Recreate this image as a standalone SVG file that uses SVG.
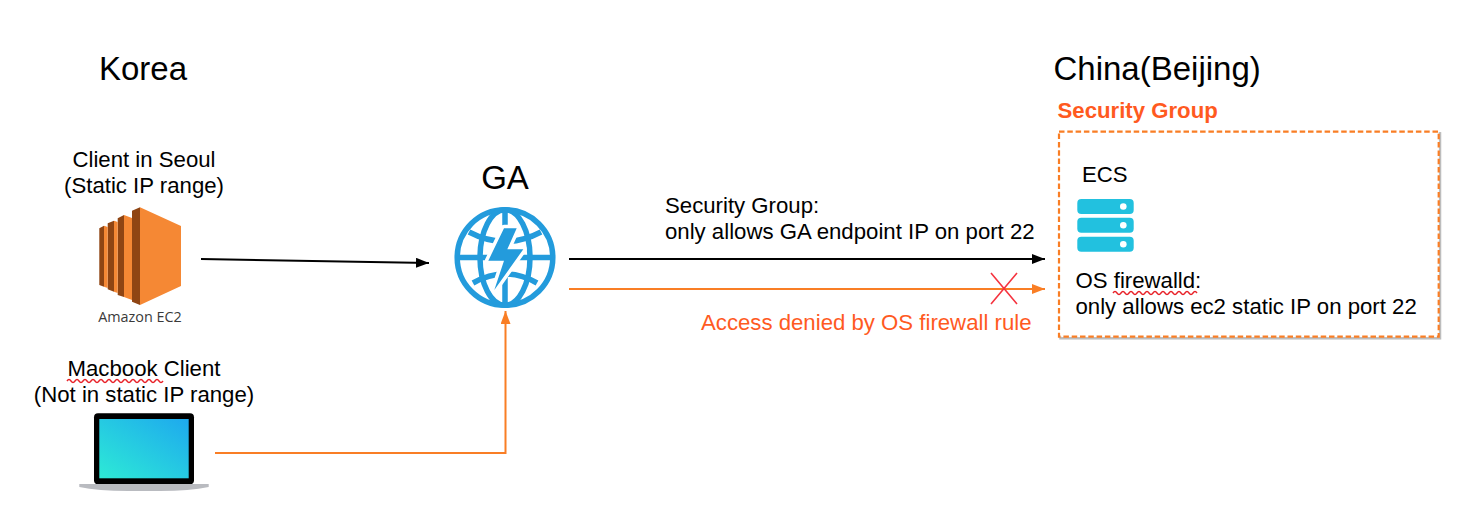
<svg xmlns="http://www.w3.org/2000/svg" width="1478" height="522" viewBox="0 0 1478 522">
<style>
text{font-family:"Liberation Sans",Arial,sans-serif;fill:#000}
.h{font-size:33px}
.m{font-size:22.200px}
.o{fill:#FF5A1F}
.conn{fill:none;stroke-width:2}
.sq{fill:none;stroke:#E8232A;stroke-width:1.400}
.srv{fill:#22C1DF}
.dot{fill:#fff}
.g{fill:none;stroke:#239BDC;stroke-width:5.500}
</style>
<defs>
<marker id="ab" markerUnits="userSpaceOnUse" markerWidth="14" markerHeight="12" refX="13" refY="5" orient="auto"><path d="M0 0L13 5L0 10Z" fill="#000"/></marker>
<marker id="ao" markerUnits="userSpaceOnUse" markerWidth="14" markerHeight="12" refX="13" refY="5" orient="auto"><path d="M0 0L13 5L0 10Z" fill="#F97E25"/></marker>
<linearGradient id="scr" x1="0" y1="1" x2="1" y2="0"><stop offset="0" stop-color="#2DEAD6"/><stop offset="1" stop-color="#1EA9EE"/></linearGradient>
</defs>

<text class="h" x="99" y="79.500">Korea</text>
<text class="h" x="1053.500" y="79.500">China(Beijing)</text>

<g id="connectors">
<path class="conn" stroke="#000" marker-end="url(#ab)" d="M201 259L429 263"/>
<path class="conn" stroke="#000" marker-end="url(#ab)" d="M569 259H1045"/>
<path class="conn" stroke="#F97E25" marker-end="url(#ao)" d="M569 289H1045"/>
<path class="conn" stroke="#F97E25" marker-end="url(#ao)" d="M215 453H505.500V311"/>
<path fill="none" stroke="#F5333F" stroke-width="1.600" d="M991 273L1017 304M1017 273L991 304"/>
<text class="m" x="665" y="212.500">Security Group:</text>
<text class="m" x="665" y="238.500">only allows GA endpoint IP on port 22</text>
<text class="m o" x="701" y="330">Access denied by OS firewall rule</text>
</g>

<g id="ec2">
<text class="m" x="144" y="167" text-anchor="middle">Client in Seoul</text>
<text class="m" x="144" y="193" text-anchor="middle">(Static IP range)</text>
<path fill="#8F4513" d="M99.300 228.300L104 225.700V286.700L99.300 285ZM107.700 223.300L114 220.700V291.700L107.700 289.300ZM117.700 218.300L124 215V297L117.700 295ZM132 210.700L140 207.300V305L132 301.700Z"/>
<path fill="#F58834" d="M104 225.700L107.700 227V288L104 286.700ZM114 220.700L117.700 222V293L114 291.700ZM124 215L132 218V300L124 297ZM140 207.300L181 226V286L140 305Z"/>
<text x="140" y="322" text-anchor="middle" style="font-family:'Open Sans','Liberation Sans',sans-serif;font-size:14.400px;fill:#3A3A3A">Amazon EC2</text>
</g>

<g id="ga">
<text x="505" y="189" text-anchor="middle" style="font-size:33px">GA</text>
<circle class="g" cx="505" cy="257.500" r="47.800"/>
<ellipse class="g" cx="505" cy="257.500" rx="25" ry="47.800"/>
<path class="g" d="M505 210V305M458 257.500H552M469 232Q505 251 541 232M473 283Q505 265 537 283"/>
<path fill="#fff" stroke="#fff" stroke-width="7" stroke-linejoin="round" d="M504 228.300H516.700L507.300 249.300H523.300L494.300 290L504 260.700H488.300Z"/>
<path fill="#239BDC" d="M504 228.300H516.700L507.300 249.300H523.300L494.300 290L504 260.700H488.300Z"/>
</g>

<g id="macbook">
<text class="m" x="144" y="375.500" text-anchor="middle">Macbook Client</text>
<text class="m" x="144" y="402" text-anchor="middle">(Not in static IP range)</text>
<path class="sq" d="M67 381q2-3 4 0t4 0t4 0t4 0t4 0t4 0t4 0t4 0t4 0t4 0t4 0t4 0t4 0t4 0t4 0t4 0t4 0t4 0t4 0t4 0t4 0t4 0t4 0t4 0"/>
<rect x="94" y="413.300" width="100" height="71" rx="4" fill="#000"/>
<rect x="99.300" y="419" width="89.400" height="59.300" fill="url(#scr)"/>
<path fill="#B9BBC0" d="M79.300 484H208.700V487Q190 491 160 491H128Q98 491 79.300 487Z"/>
</g>

<g id="ecs">
<text x="1057.500" y="118" style="font-size:22.200px;font-weight:bold" class="o">Security Group</text>
<rect x="1060.500" y="133.300" width="379.500" height="205" fill="none" stroke="#BDBDBD" stroke-width="2.500"/>
<rect x="1059" y="131.700" width="379.700" height="205" fill="#fff" stroke="#F97E25" stroke-width="2.200" stroke-dasharray="5.500 2.800"/>
<text class="m" x="1082" y="182">ECS</text>
<rect class="srv" x="1077.300" y="199" width="56.400" height="15" rx="4"/>
<rect class="srv" x="1077.300" y="217.700" width="56.400" height="15" rx="4"/>
<rect class="srv" x="1077.300" y="236.700" width="56.400" height="15" rx="4"/>
<circle class="dot" cx="1123.300" cy="206.500" r="3.300"/>
<circle class="dot" cx="1123.300" cy="225.200" r="3.300"/>
<circle class="dot" cx="1123.300" cy="244.200" r="3.300"/>
<text class="m" x="1075.500" y="288">OS firewalld:</text>
<text class="m" x="1075.500" y="314">only allows ec2 static IP on port 22</text>
<path class="sq" d="M1113 293q2-3 4 0t4 0t4 0t4 0t4 0t4 0t4 0t4 0t4 0t4 0t4 0t4 0t4 0t4 0t4 0t4 0t4 0t4 0t4 0t4 0t4 0"/>
</g>
</svg>
